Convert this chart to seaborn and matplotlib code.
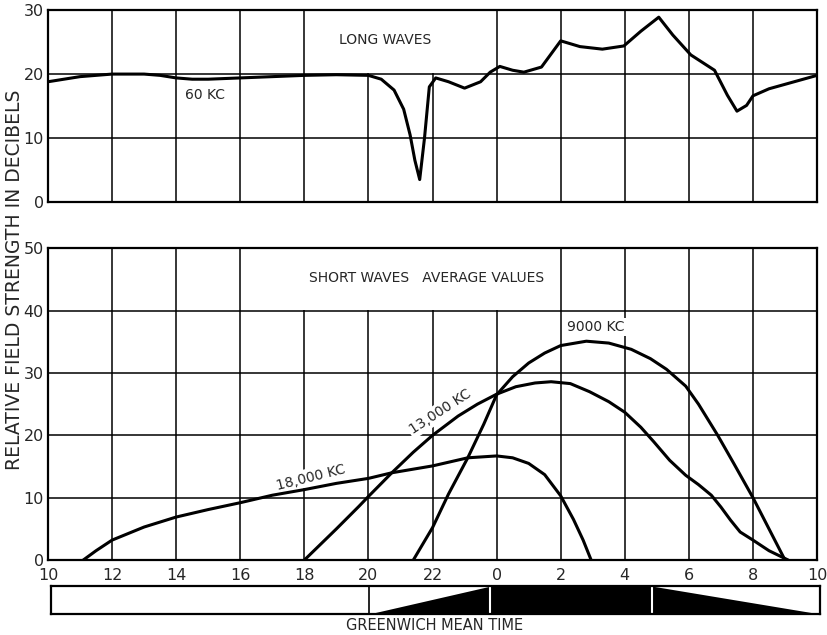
import matplotlib
matplotlib.use("Agg")
import matplotlib.pyplot as plt
from matplotlib.patches import Rectangle
import seaborn as sns

# hours run 10 .. 34 (34 = 10 next day)
tick_hours = list(range(10, 35, 2))
tick_labels = ["10", "12", "14", "16", "18", "20", "22", "0", "2", "4", "6", "8", "10"]

# long waves, 60 kc
hours_60 = [10, 11, 12, 13, 13.5, 14, 14.5, 15, 16, 17, 18, 19, 20, 20.4, 20.8, 21.1,
            21.3, 21.45, 21.6, 21.75, 21.9, 22.1, 22.5, 23.0, 23.5, 23.8, 24.1, 24.5,
            24.85, 25.4, 26.0, 26.6, 27.3, 27.97, 28.5, 29.06, 29.5, 30.06, 30.8, 31.2,
            31.5, 31.8, 32.0, 32.5, 33.0, 34.0]
db_60 = [18.8, 19.6, 20.0, 20.0, 19.8, 19.4, 19.2, 19.2, 19.4, 19.6, 19.8, 19.9, 19.8,
         19.2, 17.5, 14.5, 10.5, 6.5, 3.5, 10.0, 18.0, 19.4, 18.8, 17.8, 18.8, 20.3,
         21.2, 20.6, 20.3, 21.1, 25.2, 24.3, 23.9, 24.4, 26.7, 28.9, 26.1, 23.0, 20.6,
         16.7, 14.2, 15.1, 16.6, 17.7, 18.4, 19.8]

# short waves, average values
hours_18000 = [11.1, 11.5, 12, 13, 14, 15, 16, 17, 18, 19, 20, 20.73, 22, 23.1, 24.0,
               24.5, 25.0, 25.5, 26.0, 26.4, 26.7, 26.95]
db_18000 = [0, 1.5, 3.2, 5.3, 6.9, 8.1, 9.2, 10.4, 11.3, 12.3, 13.1, 14.0, 15.1, 16.4,
            16.7, 16.4, 15.5, 13.7, 10.3, 6.5, 3.2, 0]

hours_13000 = [18, 19, 19.7, 20, 20.73, 21.4, 22, 22.8, 23.4, 24, 24.6, 25.2, 25.7,
               26.3, 26.9, 27.5, 28, 28.5, 28.9, 29.4, 29.9, 30.3, 30.7, 31.0, 31.3,
               31.6, 32.0, 32.5, 33.1]
db_13000 = [0, 5.0, 8.6, 10.2, 14.0, 17.3, 20.0, 23.1, 25.0, 26.6, 27.8, 28.4, 28.6,
            28.3, 27.0, 25.4, 23.7, 21.3, 19.0, 16.0, 13.6, 12.1, 10.4, 8.5, 6.4, 4.5,
            3.2, 1.5, 0]

hours_9000 = [21.4, 22.0, 22.5, 23.1, 23.6, 24.0, 24.5, 25.0, 25.5, 26.0, 26.8, 27.5,
              28.2, 28.8, 29.3, 29.9, 30.3, 30.9, 31.4, 32.0, 32.5, 33.0]
db_9000 = [0, 5.2, 10.6, 16.4, 21.8, 26.5, 29.4, 31.6, 33.2, 34.4, 35.1, 34.8, 33.8,
           32.3, 30.6, 27.9, 25.0, 20.0, 15.5, 10.0, 5.0, 0]

# day / night strip
night_hours = [10, 19.9, 23.7, 28.75, 34]
night_level = [0, 0, 1, 1, 0]

sns.set_style("white")
plt.rcParams["font.family"] = ["DejaVu Sans"]

fig = plt.figure(figsize=(8.27, 6.35), dpi=100)
ax_top = fig.add_axes([0.058, 0.682, 0.930, 0.302])
ax_bot = fig.add_axes([0.058, 0.118, 0.930, 0.491])
ax_bar = fig.add_axes([0.062, 0.033, 0.930, 0.044])

line_kw = dict(color="black", linewidth=2.2, sort=False, estimator=None, zorder=3)
sns.lineplot(x=hours_60, y=db_60, ax=ax_top, **line_kw)
sns.lineplot(x=hours_18000, y=db_18000, ax=ax_bot, **line_kw)
sns.lineplot(x=hours_13000, y=db_13000, ax=ax_bot, **line_kw)
sns.lineplot(x=hours_9000, y=db_9000, ax=ax_bot, **line_kw)

for ax, top in [(ax_top, 30), (ax_bot, 50)]:
    ax.set_xlim(10, 34)
    ax.set_ylim(0, top)
    ax.set_xticks(tick_hours)
    ax.set_yticks(range(0, top + 1, 10))
    ax.grid(True, color="black", linewidth=1.1)
    ax.set_axisbelow(True)
    for s in ax.spines.values():
        s.set_color("black")
        s.set_linewidth(1.6)
    ax.tick_params(length=0, labelsize=11.5, pad=3)
    ax.set_xlabel("")
    ax.set_ylabel("")

ax_top.set_xticklabels([])
ax_bot.set_xticklabels(tick_labels)
ax_bot.tick_params(axis="x", pad=6)

# white title boxes that hide the grid behind the headings
ax_top.add_patch(Rectangle((18.06, 20.15), 5.88, 9.7, facecolor="white",
                           edgecolor="none", zorder=1))
ax_bot.add_patch(Rectangle((16.06, 40.12), 9.88, 9.76, facecolor="white",
                           edgecolor="none", zorder=1))

txt_kw = dict(ha="center", va="center", fontsize=10, zorder=2)
box = dict(facecolor="white", edgecolor="none", pad=1.5)
ax_top.text(20.53, 25.3, "LONG WAVES", **txt_kw)
ax_top.text(14.9, 16.8, "60 KC", bbox=box, **txt_kw)
ax_bot.text(21.8, 45.3, "SHORT WAVES   AVERAGE VALUES", **txt_kw)
ax_bot.text(27.1, 37.4, "9000 KC", bbox=box, **txt_kw)
ax_bot.text(22.25, 23.8, "13,000 KC", rotation=33, bbox=box, **txt_kw)
ax_bot.text(18.2, 13.3, "18,000 KC", rotation=14, bbox=box, **txt_kw)

# day/night strip
ax_bar.fill_between(night_hours, 0, night_level, color="black", linewidth=0)
ax_bar.axvline(19.9, color="black", linewidth=1.2)
ax_bar.axvline(23.7, color="white", linewidth=1.5)
ax_bar.axvline(28.75, color="white", linewidth=1.5)
ax_bar.set_xlim(10, 34)
ax_bar.set_ylim(0, 1)
ax_bar.set_xticks([])
ax_bar.set_yticks([])
for s in ax_bar.spines.values():
    s.set_color("black")
    s.set_linewidth(1.6)

fig.text(0.526, 0.0142, "GREENWICH MEAN TIME", ha="center", va="center", fontsize=10.5)
fig.text(0.017, 0.559, "RELATIVE FIELD STRENGTH IN DECIBELS", rotation=90,
         ha="center", va="center", fontsize=13.5)

fig.savefig("out.png", dpi=100)
